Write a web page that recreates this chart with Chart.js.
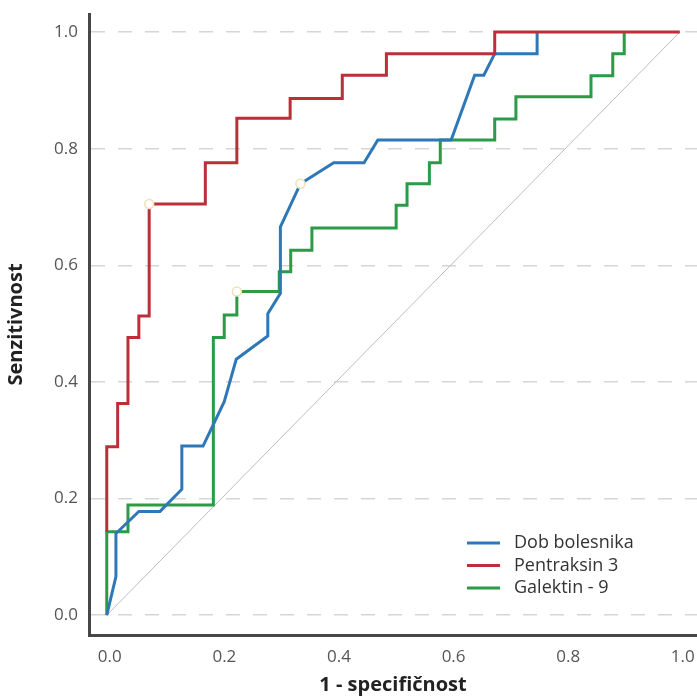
<!DOCTYPE html>
<html>
<head>
<meta charset="utf-8">
<title>ROC krivulje</title>
<script src="https://cdn.jsdelivr.net/npm/chart.js@4.4.1/dist/chart.umd.min.js"></script>
<style>
  html, body { margin: 0; padding: 0; background: #fff; }
  #wrap { width: 697px; height: 699px; }
</style>
</head>
<body>
<div id="wrap"><canvas id="roc" width="697" height="699"></canvas></div>
<script>
// axis ticks
const xTicks = [0, 0.2, 0.4, 0.6, 0.8, 1.0];
const yTicks = [0, 0.2, 0.4, 0.6, 0.8, 1.0];

// Dob bolesnika (blue, straight segments)
const dobX = [0, 0.016, 0.016, 0.056, 0.093, 0.131, 0.131, 0.168, 0.205, 0.226, 0.281, 0.281, 0.303, 0.303, 0.338, 0.396, 0.449, 0.473, 0.601, 0.642, 0.658, 0.677, 0.751, 0.751];
const dobY = [0, 0.066, 0.14, 0.178, 0.178, 0.216, 0.29, 0.29, 0.366, 0.439, 0.479, 0.517, 0.552, 0.666, 0.740, 0.776, 0.776, 0.815, 0.815, 0.926, 0.926, 0.963, 0.963, 1.0];

// Pentraksin 3 (red, steps)
const ptxX = [0, 0, 0.019, 0.037, 0.056, 0.074, 0.172, 0.227, 0.320, 0.411, 0.488, 0.677, 1.0];
const ptxY = [0.143, 0.289, 0.363, 0.476, 0.513, 0.705, 0.776, 0.852, 0.886, 0.926, 0.963, 1.0, 1.0];

// Galektin - 9 (green, steps)
const galX = [0, 0, 0.037, 0.186, 0.205, 0.227, 0.301, 0.321, 0.358, 0.505, 0.524, 0.563, 0.582, 0.677, 0.714, 0.845, 0.883, 0.903];
const galY = [0, 0.143, 0.189, 0.476, 0.515, 0.555, 0.589, 0.626, 0.664, 0.703, 0.740, 0.776, 0.815, 0.851, 0.889, 0.925, 0.963, 1.0];

// cut-off points (blue, red, green)
const cutX = [0.338, 0.074, 0.227];
const cutY = [0.740, 0.705, 0.555];

// reference diagonal
const diagX = [0, 1];
const diagY = [0, 1];

const legendNames = ["Dob bolesnika", "Pentraksin 3", "Galektin - 9"];
const legendColors = ["#2f78b7", "#bb2f38", "#2c9b48"];

function pts(xs, ys) {
  return xs.map((x, i) => ({ x: x, y: ys[i] }));
}

// stretch plot area to the right edge of the canvas
const fullWidth = {
  id: "fullWidth",
  afterLayout(chart) {
    const x = chart.scales.x;
    chart.chartArea.right = chart.width;
    chart.chartArea.width = chart.width - chart.chartArea.left;
    x.right = chart.width;
    x.width = x.right - x.left;
    x.configure();
  }
};

// simple legend drawn inside the plot, bottom right
const rocLegend = {
  id: "rocLegend",
  afterDraw(chart) {
    const ctx = chart.ctx;
    ctx.save();
    ctx.font = "18px 'Open Sans', sans-serif";
    ctx.textBaseline = "middle";
    legendNames.forEach((name, i) => {
      const y = 543 + i * 22.5;
      ctx.strokeStyle = legendColors[i];
      ctx.lineWidth = 3;
      ctx.beginPath();
      ctx.moveTo(467, y);
      ctx.lineTo(500, y);
      ctx.stroke();
      ctx.fillStyle = "#333";
      ctx.fillText(name, 514, y);
    });
    ctx.restore();
  }
};

const tickFont = { family: "'Open Sans', sans-serif", size: 17 };
const titleFont = { family: "'Open Sans', sans-serif", size: 20, weight: "bold" };

function noPad(s) {
  s.paddingTop = 0; s.paddingBottom = 0; s.paddingLeft = 0; s.paddingRight = 0;
}

new Chart(document.getElementById("roc"), {
  type: "scatter",
  data: {
    datasets: [
      { label: "cut", data: pts(cutX, cutY), showLine: false, pointRadius: 4.5,
        pointBackgroundColor: "#fff", pointBorderColor: "#f1dfb8", pointBorderWidth: 1.5, order: 0 },
      { label: legendNames[1], data: pts(ptxX, ptxY), showLine: true, stepped: "before",
        borderColor: legendColors[1], borderWidth: 3, pointRadius: 0, order: 1 },
      { label: legendNames[0], data: pts(dobX, dobY), showLine: true, tension: 0,
        borderColor: legendColors[0], borderWidth: 3, pointRadius: 0, order: 2 },
      { label: legendNames[2], data: pts(galX, galY), showLine: true, stepped: "before",
        borderColor: legendColors[2], borderWidth: 3, pointRadius: 0, order: 3 },
      { label: "diag", data: pts(diagX, diagY), showLine: true,
        borderColor: "#bdbdbd", borderWidth: 1, pointRadius: 0, order: 4 }
    ]
  },
  options: {
    responsive: false,
    animation: false,
    layout: { padding: { top: 14, right: 0, left: 0, bottom: 0 } },
    plugins: { legend: { display: false }, tooltip: { enabled: false } },
    scales: {
      x: {
        type: "linear",
        min: -0.031,
        max: 1.03,
        afterFit: s => { s.height = 64; noPad(s); },
        afterBuildTicks: s => { s.ticks = xTicks.map(v => ({ value: v })); },
        grid: { color: "rgba(0,0,0,0)", drawTicks: true, tickLength: 12, tickColor: "rgba(0,0,0,0)" },
        border: { display: true, color: "#474747", width: 3 },
        ticks: { padding: 0, labelOffset: 3, color: "#555", font: tickFont, callback: v => Number(v).toFixed(1) },
        title: { display: true, text: "1 - specifičnost", color: "#222", font: titleFont, padding: { bottom: 2 } }
      },
      y: {
        type: "linear",
        min: -0.034,
        max: 1.031,
        afterFit: s => { s.width = 89; noPad(s); },
        afterBuildTicks: s => { s.ticks = yTicks.map(v => ({ value: v })); },
        grid: { color: "#d6d6d6", lineWidth: 1.5, drawTicks: false },
        border: { display: true, color: "#474747", width: 3, dash: [14, 13] },
        ticks: { padding: 11, color: "#555", font: tickFont, callback: v => Number(v).toFixed(1) },
        title: { display: true, text: "Senzitivnost", color: "#222", font: titleFont, padding: { top: 4 } }
      }
    }
  },
  plugins: [fullWidth, rocLegend]
});
</script>
</body>
</html>
